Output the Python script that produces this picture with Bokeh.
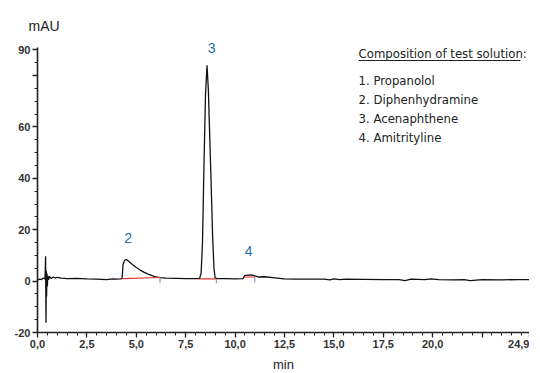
from bokeh.plotting import figure
from bokeh.models import (Range1d, FixedTicker, CustomJSTickFormatter, Label, BoxAnnotation)
from bokeh.embed import file_html
from bokeh.resources import INLINE

# ---- data ----
time_min = [0.0, 0.1, 0.2, 0.3, 0.38, 0.41, 0.43, 0.445, 0.46, 0.48, 0.50, 0.52, 0.56, 0.6, 0.7,
            0.8, 0.9, 1.0, 1.2, 1.5, 2.0, 2.5, 3.0, 3.5, 3.8, 4.0, 4.2, 4.28, 4.33, 4.42, 4.5,
            4.6, 4.8, 5.0, 5.2, 5.4, 5.6, 5.8, 6.0, 6.2, 6.5, 7.0, 7.5, 8.0, 8.2, 8.28, 8.35,
            8.42, 8.5, 8.58, 8.65, 8.71, 8.78, 8.86, 8.93, 8.99, 9.1, 9.5, 10.0, 10.4, 10.5,
            10.8, 11.0, 11.2, 11.5, 12.0, 12.5, 13.0, 14.0, 14.5, 14.8, 15.0, 15.3, 15.6,
            16.5, 17.5, 18.3, 18.6, 18.9, 19.6, 19.9, 20.3, 21.0, 21.6, 21.9, 22.5, 23.5,
            24.3, 24.9]
signal_mau = [0.3, 0.8, 0.6, 1.2, 0.8, 9.7, -16.2, 4.0, -6.0, 3.0, -2.0, 2.0, 0.5, 1.8, 1.0,
              1.6, 1.2, 1.5, 1.2, 1.0, 1.1, 0.9, 0.8, 0.6, 0.9, 0.8, 0.9, 1.0, 6.5, 8.2, 8.4,
              7.8, 6.5, 5.3, 4.3, 3.4, 2.7, 2.1, 1.6, 1.4, 1.2, 1.1, 1.0, 1.0, 1.0, 3.0, 15.0,
              43.0, 72.0, 84.0, 74.0, 58.0, 40.0, 18.0, 5.0, 1.3, 1.0, 1.0, 0.9, 1.0, 2.2,
              2.4, 2.0, 1.6, 1.7, 1.3, 0.9, 0.8, 0.8, 0.8, 0.5, 0.9, 0.6, 0.8,
              0.7, 0.6, 0.6, 0.2, 0.8, 0.6, 0.9, 0.6, 0.5, 0.6, 0.2, 0.6, 0.5,
              0.6, 0.6]

# integration baselines (start, end, level)
base_start = [4.28, 8.2, 10.45]
base_end = [6.2, 9.05, 11.0]
base_level_start = [1.0, 0.9, 1.6]
base_level_end = [1.4, 0.9, 1.6]

peak_labels = ["2", "3", "4"]
peak_label_t = [4.59, 8.81, 10.69]
peak_label_v = [16.7, 90.9, 11.9]

x_ticks = [0.0, 2.5, 5.0, 7.5, 10.0, 12.5, 15.0, 17.5, 20.0, 22.5, 24.9]
y_ticks = [-20, 0, 20, 40, 60, 80, 90]

legend_title = "Composition of test solution:"
legend_items = ["1. Propanolol", "2. Diphenhydramine", "3. Acenaphthene", "4. Amitrityline"]

# ---- figure ----
p = figure(frame_width=492, frame_height=298, output_backend="svg", toolbar_location=None,
           x_range=Range1d(0, 24.9), y_range=Range1d(-20, 96),
           min_border_left=37, min_border_right=0, min_border_top=34, min_border_bottom=0)
p.outline_line_color = None
p.xgrid.visible = False
p.ygrid.visible = False
p.background_fill_color = "white"

p.title.text = "mAU"
p.title.align = "left"
p.title.offset = -9
p.title.standoff = 2
p.title.text_font = "Liberation Sans"
p.title.text_font_style = "normal"
p.title.text_font_size = "14px"
p.title.text_color = "#222222"

p.line(time_min, signal_mau, line_color="#111111", line_width=1.3)
p.segment(x0=base_start, y0=base_level_start, x1=base_end, y1=base_level_end,
          line_color="#e8302a", line_width=1.2)
p.segment(x0=base_end, y0=base_level_end, x1=base_end, y1=[-0.8, -0.8, -0.6],
          line_color="#8080c8", line_width=1)

tick_font = "Liberation Sans"
xa = p.xaxis[0]
xa.ticker = FixedTicker(ticks=x_ticks, minor_ticks=[i * 0.5 for i in range(0, 50)])
xa.formatter = CustomJSTickFormatter(code="""
    if (Math.abs(tick - 22.5) < 1e-6) { return ''; }
    return tick.toFixed(1).replace('.', ',');
""")
xa.axis_label = "min"
xa.axis_label_text_font = tick_font
xa.axis_label_text_font_style = "normal"
xa.axis_label_text_font_size = "13px"
xa.axis_label_text_color = "#222222"
xa.axis_label_standoff = 6

ya = p.yaxis[0]
ya.bounds = (-20, 91)
ya.ticker = FixedTicker(ticks=y_ticks, minor_ticks=list(range(-20, 95, 5)))
ya.formatter = CustomJSTickFormatter(code="""
    if (tick == 80) { return ''; }
    return tick.toFixed(0);
""")

for ax in (xa, ya):
    ax.axis_line_color = "#222222"
    ax.axis_line_width = 1.6
    ax.major_tick_line_color = "#222222"
    ax.major_tick_line_width = 1.3
    ax.minor_tick_line_color = "#222222"
    ax.minor_tick_line_width = 1
    ax.major_tick_out = 5
    ax.major_tick_in = 0
    ax.minor_tick_out = 3
    ax.minor_tick_in = 0
    ax.major_label_text_font = tick_font
    ax.major_label_text_font_style = "bold"
    ax.major_label_text_font_size = "11px"
    ax.major_label_text_color = "#333333"
    ax.major_label_standoff = 2

# peak numbers
for lab, t, v in zip(peak_labels, peak_label_t, peak_label_v):
    p.add_layout(Label(x=t, y=v, text=lab, text_align="center", text_baseline="middle",
                       text_font=tick_font, text_font_size="14px", text_color="#1f6ea8"))

# composition text
leg_font = "DejaVu Sans Condensed"
leg_x = 16.25
p.add_layout(Label(x=leg_x, y=88.6, text=legend_title, text_align="left", text_baseline="middle",
                   text_font=leg_font, text_font_size="13px", text_color="#222222"))
p.add_layout(BoxAnnotation(left=leg_x, right=24.44, bottom=85.7, top=86.1,
                           fill_color="#222222", fill_alpha=1, line_color=None))
leg_v = [78.1, 70.6, 63.2, 55.8]
for txt, v in zip(legend_items, leg_v):
    p.add_layout(Label(x=leg_x, y=v, text=txt, text_align="left", text_baseline="middle",
                       text_font=leg_font, text_font_size="13px", text_color="#222222"))

open("out.html", "w").write(file_html(p, INLINE))
